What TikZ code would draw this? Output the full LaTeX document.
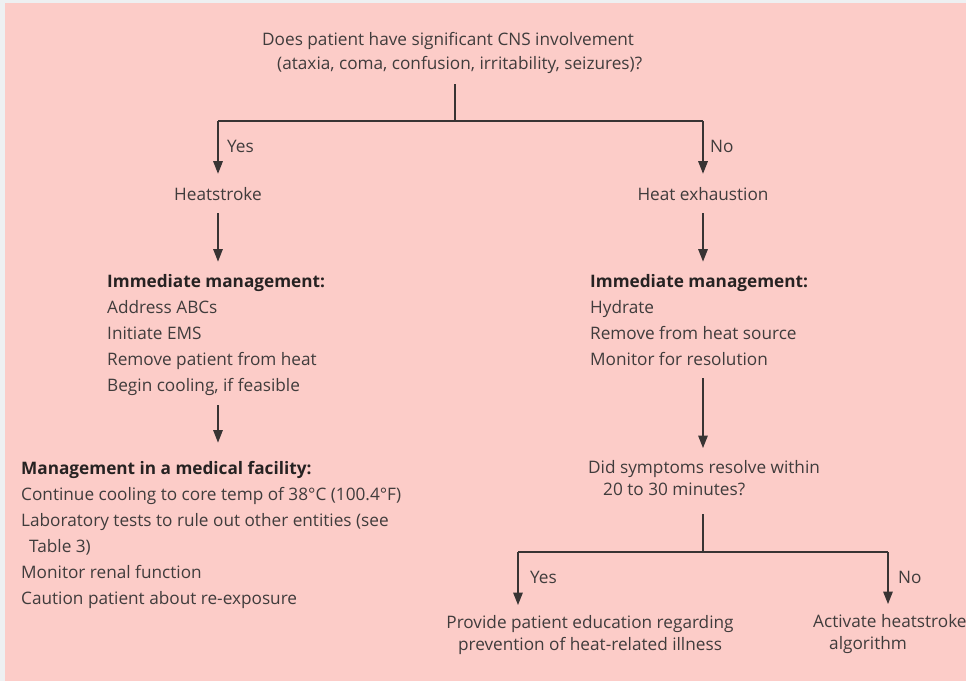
\documentclass[tikz,border=0pt]{standalone}
\usepackage{fontspec}
\setmainfont{Open Sans}
\usetikzlibrary{arrows.meta}
\definecolor{bgpink}{HTML}{FCCCC8}
\definecolor{marginc}{HTML}{EEF0F2}
\definecolor{ink}{HTML}{403C3C}
\definecolor{headink}{HTML}{262222}
\definecolor{lineink}{HTML}{383434}
\newcommand{\blk}[2]{\begin{tabular}[t]{@{}#1@{}}#2\end{tabular}}
\newcommand{\hd}[1]{\textcolor{headink}{\textbf{#1}}}
\begin{document}
\begin{tikzpicture}[x=1pt,y=-1pt,
  txt/.style={inner sep=0pt, anchor=base west, text=ink, font=\fontsize{17.2}{24}\selectfont},
  lst/.style={txt, font=\fontsize{17.2}{26}\selectfont},
  tight/.style={txt, font=\fontsize{17.2}{22.5}\selectfont},
  ctxt/.style={txt, anchor=base},
  conn/.style={draw=lineink, line width=1.4pt},
  arr/.style={conn, -{Triangle[width=9.5pt,length=12.5pt]}}]
\fill[marginc] (0,0) rectangle (966,681);
\fill[bgpink] (5,3) rectangle (966,681);
\useasboundingbox (0,0) rectangle (966,681);

% top question
\node[txt] (q) at (262,45) {\blk{l}{Does patient have significant CNS involvement\\\hspace*{15pt}(ataxia, coma, confusion, irritability, seizures)?}};
\coordinate (j1) at (455,121);
\coordinate (jl) at (218,121);
\coordinate (jr) at (703,121);
\draw[conn] (q.south -| j1) ++(0,8) -- (j1);
\draw[conn] (jl) -- (jr);

\node[ctxt] (hs) at (218,200) {Heatstroke};
\node[ctxt] (he) at (703,200) {Heat exhaustion};
\draw[arr] (jl) -- ([yshift=13pt]hs.north);
\draw[arr] (jr) -- ([yshift=13pt]he.north);
\node[txt] (yes1) at (227,152) {Yes};
\node[txt] (no1) at (710,152) {No};

% left branch
\node[lst] (iml) at (107,287) {\blk{l}{\hd{Immediate management:}\\Address ABCs\\Initiate EMS\\Remove patient from heat\\Begin cooling, if feasible}};
\draw[arr] ([yshift=-13pt]hs.south) -- ([yshift=7pt]hs.south |- iml.north);

\node[lst] (mf) at (21,474) {\blk{l}{\hd{Management in a medical facility:}\\Continue cooling to core temp of 38°C (100.4°F)\\Laboratory tests to rule out other entities (see\\\hspace*{8pt}Table 3)\\Monitor renal function\\Caution patient about re-exposure}};
\draw[arr] ([yshift=-6pt]iml.south -| hs) -- ([yshift=13pt]mf.north -| hs);

% right branch
\node[lst] (imr) at (590,287) {\blk{l}{\hd{Immediate management:}\\Hydrate\\Remove from heat source\\Monitor for resolution}};
\draw[arr] ([yshift=-13pt]he.south) -- ([yshift=7pt]he.south |- imr.north);

\node[tight] (did) at (588,473) {\blk{l}{Did symptoms resolve within\\\hspace*{15pt}20 to 30 minutes?}};
\draw[arr] ([yshift=-5pt]imr.south -| he) -- ([yshift=9pt]did.north -| he);

\coordinate (j2) at (703,552);
\coordinate (jl2) at (518,552);
\coordinate (jr2) at (888,552);
\draw[conn] (did.south -| j2) ++(0,12) -- (j2);
\draw[conn] (jl2) -- (jr2);

\node[tight, anchor=base] (pv) at (590,628) {\blk{c}{Provide patient education regarding\\prevention of heat-related illness}};
\node[tight] (act) at (813,627) {\blk{l}{Activate heatstroke\\\hspace*{16pt}algorithm}};
\draw[arr] (jl2) -- ([yshift=7pt]pv.north -| jl2);
\draw[arr] (jr2) -- ([yshift=7pt]act.north -| jr2);
\node[txt] (yes2) at (530,583) {Yes};
\node[txt] (no2) at (898,583) {No};
\end{tikzpicture}
\end{document}
